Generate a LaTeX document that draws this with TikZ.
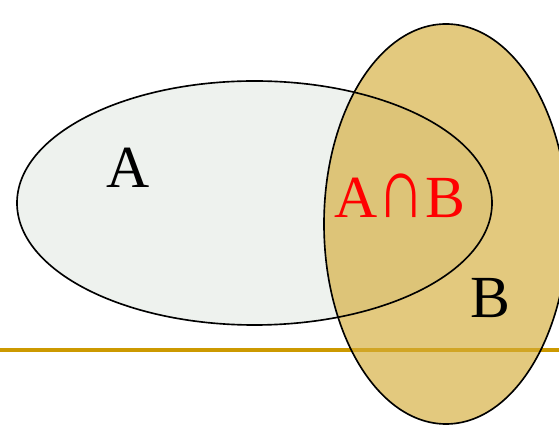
\documentclass[tikz,border=0pt]{standalone}
\usepackage{fontspec}
\usepackage{graphicx}
\setmainfont{Liberation Serif}
\definecolor{setA}{HTML}{EEF2EE}
\definecolor{setB}{HTML}{D4AC39}
\definecolor{rule}{HTML}{CC9900}
\newcommand{\tallcap}{\scalebox{1.1}[1.45]{∩}}
\begin{document}
\begin{tikzpicture}[x=0.03cm, y=0.03cm,
      setname/.style={
        font=\fontsize{51}{51}\selectfont,
        anchor=base,
        inner sep=0pt
      },
      outline/.style={
        draw=black,
        line width=1.4pt
      },
    ]
    \useasboundingbox (0, 0) rectangle (559, 425);

    \fill [setA] (254.5, 222) circle [x radius=237.5, y radius=122];
    \draw [rule, line width=3.2pt] (0, 75) -- (559, 75);
    \fill [setB, fill opacity=0.65]
          (446, 201) circle [x radius=122, y radius=200];
    \draw [outline] (254.5, 222) circle [x radius=237.5, y radius=122];
    \draw [outline] (446, 201) circle [x radius=122, y radius=200];

    \node [setname] (A) at (128, 237) {A};
    \node [setname, red] (AB) at (400, 207) {A\tallcap B};
    \node [setname] (B) at (490, 107) {B};
\end{tikzpicture}
\end{document}
